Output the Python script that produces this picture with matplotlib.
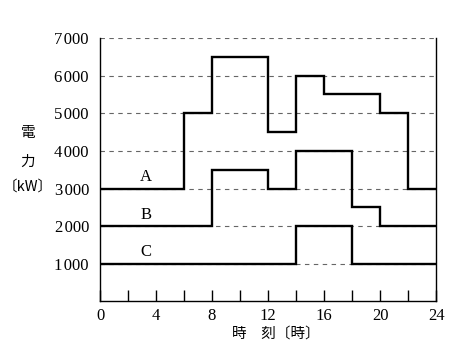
import numpy as np
import matplotlib
matplotlib.use("Agg")
import matplotlib.pyplot as plt

serif = ['Liberation Serif', 'DejaVu Serif']
cjk = ['Noto Sans CJK JP', 'DejaVu Sans']

# step data: start hour of each segment, value held until next edge
a_edges = [0, 6, 8, 12, 14, 16, 20, 22, 24]
a_vals = [3000, 5000, 6500, 4500, 6000, 5500, 5000, 3000]
b_edges = [0, 8, 12, 14, 18, 20, 24]
b_vals = [2000, 3500, 3000, 4000, 2500, 2000]
c_edges = [0, 14, 18, 24]
c_vals = [1000, 2000, 1000]

names = ['A', 'B', 'C']
y_ticks = [1000, 2000, 3000, 4000, 5000, 6000, 7000]
x_ticks = [0, 4, 8, 12, 16, 20, 24]

fig = plt.figure(figsize=(4.74, 3.58), dpi=100)
ax = fig.add_axes([0.211, 0.158, 0.709, 0.736])

for edges, vals, name in [(a_edges, a_vals, 'A'), (b_edges, b_vals, 'B'), (c_edges, c_vals, 'C')]:
    ax.stairs(vals, edges, color='black', lw=1.7, baseline=None)
    ax.text(3.3, vals[0] + 90, name, ha='center', va='bottom',
            family=serif, fontsize=12)

for y in y_ticks:
    ax.axhline(y, color='#666666', lw=0.8, ls=(0, (4, 4)), zorder=0)

ax.set_xlim(0, 24)
ax.set_ylim(0, 7000)
ax.spines['top'].set_visible(False)
ax.spines['left'].set_bounds(0, 7000)
ax.spines['right'].set_bounds(0, 7000)
for s in ax.spines.values():
    s.set_linewidth(1.0)

ax.set_xticks(x_ticks)
ax.set_xticks(np.arange(0, 25, 2), minor=True)
ax.set_xticklabels([str(x) for x in x_ticks], family=serif, fontsize=12)
ax.tick_params(axis='x', which='both', direction='in', length=8, width=1, pad=5)
ax.set_yticks(y_ticks)
ax.set_yticklabels([f"{y // 1000}\u200a{y % 1000:03d}" for y in y_ticks],
                   family=serif, fontsize=12)
ax.tick_params(axis='y', length=0, pad=8)

fig.text(0.059, 0.628, '電', family=cjk, fontsize=10.5, ha='center', va='center')
fig.text(0.059, 0.547, '力', family=cjk, fontsize=10.5, ha='center', va='center')
fig.text(0.058, 0.478, '〔kW〕', family=cjk, fontsize=10.5, ha='center', va='center')
fig.text(0.582, 0.068, '時　刻〔時〕', family=cjk, fontsize=10.5, ha='center', va='center')

fig.savefig('out.png', dpi=100)
